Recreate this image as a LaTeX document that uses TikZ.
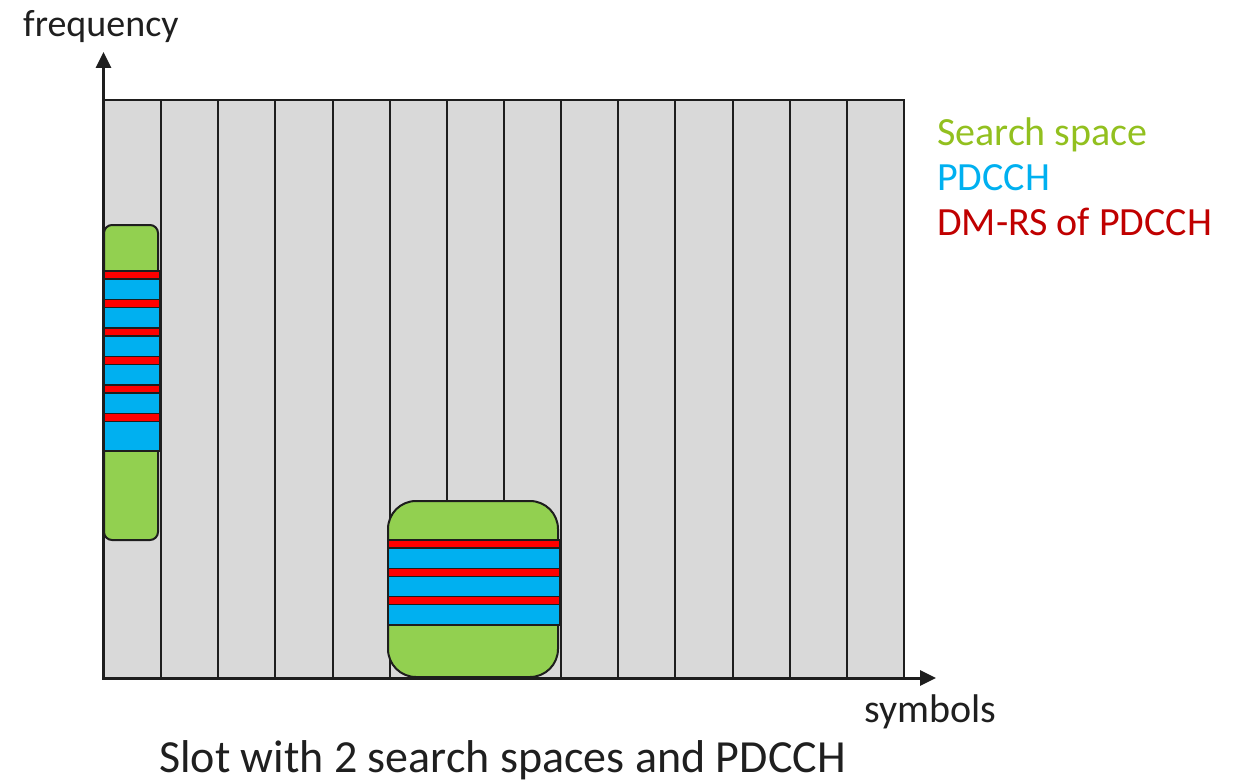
\documentclass[tikz,border=0pt]{standalone}
\usepackage{fontspec}
\setmainfont{Carlito}
\usetikzlibrary{arrows.meta}
\definecolor{cellgray}{HTML}{D9D9D9}
\definecolor{ssgreen}{HTML}{92D050}
\definecolor{pdblue}{HTML}{00B0F0}
\definecolor{dmred}{HTML}{FF0000}
\definecolor{inkline}{HTML}{1E1E1E}
\definecolor{legendgreen}{RGB}{146,192,31}
\definecolor{legendred}{HTML}{C00000}
\tikzset{
  cell/.style={fill=cellgray, draw=inkline, line width=2pt},
  searchsp/.style={fill=ssgreen, draw=inkline, line width=2pt},
  pdcch/.style={fill=pdblue, draw=inkline, line width=1.6pt},
  dmrs/.style={fill=dmred, draw=inkline, line width=1.6pt},
  axis/.style={draw=inkline, line width=3pt, -{Triangle[length=16pt,width=15pt]}},
  lbl/.style={inner sep=0pt, anchor=base west, text=black!88},
}
\begin{document}
\begin{tikzpicture}[x=1pt, y=-1pt]
\useasboundingbox (0,0) rectangle (1234,784);

% slot grid: 14 symbols
\foreach \i in {0,...,13}{
  \draw[cell] ({104+\i*800/14},100) rectangle ({104+(\i+1)*800/14},678);
}

% first search space (narrow, one symbol)
\draw[searchsp, rounded corners=8pt] (104,225) rectangle (158,540);
\draw[pdcch] (104,271) rectangle (160,451);
\foreach \k in {0,...,5}{
  \draw[dmrs] (104,{271+28.5*\k}) rectangle (160,{279+28.5*\k});
}

% second search space (three symbols)
\draw[searchsp, rounded corners=28pt] (388,501) rectangle (558,677);
\draw[pdcch] (388,540) rectangle (560,625);
\foreach \k in {0,...,2}{
  \draw[dmrs] (388,{540+28.3*\k}) rectangle (560,{548+28.3*\k});
}

% axes
\coordinate (origin) at (103.5,679);
\coordinate (ftip) at (103.5,52);
\coordinate (stip) at (936,678);
\draw[axis] (origin) -- (ftip);
\draw[axis] (102,678) -- (stip);

% labels
\node[lbl, font=\fontsize{38}{41}\selectfont] (freq) at (23,37) {frequency};
\node[lbl, font=\fontsize{40}{43}\selectfont] (sym) at (864,722) {symbols};
\node[lbl, font=\fontsize{46}{50}\selectfont] (caption) at (159,772) {Slot with 2 search spaces and PDCCH};

% legend
\node[lbl, font=\fontsize{40}{44}\selectfont, text=legendgreen] (legss) at (937,145) {Search space};
\node[lbl, font=\fontsize{40}{44}\selectfont, text=pdblue] (legpd) at (937,190) {PDCCH};
\node[lbl, font=\fontsize{40}{44}\selectfont, text=legendred] (legdm) at (937,235) {DM-RS of PDCCH};
\end{tikzpicture}
\end{document}
